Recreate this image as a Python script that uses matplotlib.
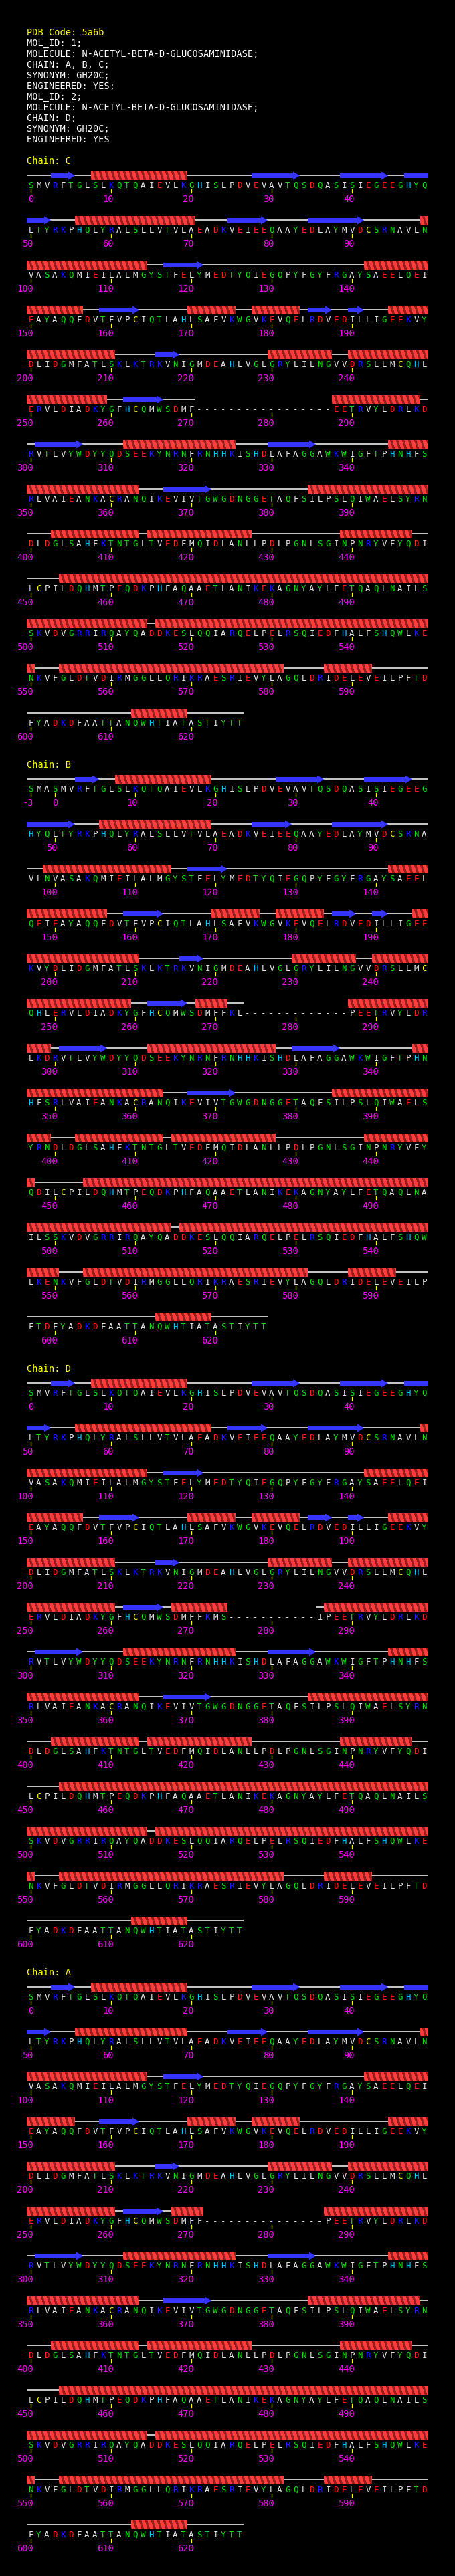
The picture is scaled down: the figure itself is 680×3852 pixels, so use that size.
import matplotlib
matplotlib.use('Agg')
import matplotlib.pyplot as plt
from matplotlib.collections import PolyCollection
from matplotlib.patches import Polygon, Rectangle

# ---- data ----
HEADER_TITLE = 'PDB Code: 5a6b'
HEADER_LINES = ['MOL_ID: 1;',
                'MOLECULE: N-ACETYL-BETA-D-GLUCOSAMINIDASE;',
                'CHAIN: A, B, C;',
                'SYNONYM: GH20C;',
                'ENGINEERED: YES;',
                'MOL_ID: 2;',
                'MOLECULE: N-ACETYL-BETA-D-GLUCOSAMINIDASE;',
                'CHAIN: D;',
                'SYNONYM: GH20C;',
                'ENGINEERED: YES']

# residues -3 .. 626 (X = never observed in any chain)
SEQ_FIRST = -3
SEQUENCE = ('SMA'
            'SMVRFTGLSLKQTQAIEVLKGHISLPDVEVAVTQSDQASISIEGEEGHYQ'
            'LTYRKPHQLYRALSLLVTVLAEADKVEIEEQAAYEDLAYMVDCSRNAVLN'
            'VASAKQMIEILALMGYSTFELYMEDTYQIEGQPYFGYFRGAYSAEELQEI'
            'EAYAQQFDVTFVPCIQTLAHLSAFVKWGVKEVQELRDVEDILLIGEEKVY'
            'DLIDGMFATLSKLKTRKVNIGMDEAHLVGLGRYLILNGVVDRSLLMCQHL'
            'ERVLDIADKYGFHCQMWSDMFFKLSXXXXXXXXXXXIPEETRVYLDRLKD'
            'RVTLVYWDYYQDSEEKYNRNFRNHHKISHDLAFAGGAWKWIGFTPHNHFS'
            'RLVAIEANKACRANQIKEVIVTGWGDNGGETAQFSILPSLQIWAELSYRN'
            'DLDGLSAHFKTNTGLTVEDFMQIDLANLLPDLPGNLSGINPNRYVFYQDI'
            'LCPILDQHMTPEQDKPHFAQAAETLANIKEKAGNYAYLFETQAQLNAILS'
            'SKVDVGRRIRQAYQADDKESLQQIARQELPELRSQIEDFHALFSHQWLKE'
            'NKVFGLDTVDIRMGGLLQRIKRAESRIEVYLAGQLDRIDELEVEILPFTD'
            'FYADKDFAATTANQWHTIATASTIYTT')

CHAINS = ['C', 'B', 'D', 'A']
CHAIN_FIRST = [0, -3, 0, 0]
CHAIN_LAST = [626, 626, 626, 626]
CHAIN_MISSING = [(271, 287), (274, 286), (275, 285), (272, 286)]
CHAIN_MUTATIONS = [{}, {}, {273: 'M'}, {}]

HELICES_C = [(8, 19), (56, 70), (99, 114), (142, 156), (170, 175), (178, 183),
             (195, 210), (230, 237), (240, 259), (288, 298), (312, 325),
             (345, 363), (385, 399), (403, 413), (415, 427), (439, 447),
             (454, 514), (516, 550), (554, 581), (587, 592), (613, 619)]
HELICES_B = [(8, 19), (56, 69), (99, 114), (142, 156), (170, 175), (178, 183),
             (195, 210), (230, 237), (240, 259), (268, 271), (287, 299),
             (312, 327), (345, 363), (385, 399), (403, 413), (415, 427),
             (439, 447), (454, 514), (516, 550), (554, 581), (587, 592),
             (613, 619)]
HELICES_D = [(8, 19), (56, 72), (99, 114), (142, 156), (170, 175), (178, 183),
             (195, 210), (230, 237), (240, 260), (268, 274), (287, 299),
             (312, 325), (345, 363), (385, 399), (403, 413), (415, 427),
             (439, 447), (454, 514), (516, 550), (554, 581), (587, 592),
             (613, 619)]
HELICES_A = [(8, 19), (56, 69), (99, 114), (142, 155), (170, 175), (178, 183),
             (195, 210), (230, 237), (240, 260), (268, 271), (287, 299),
             (312, 325), (345, 363), (385, 398), (403, 413), (415, 427),
             (439, 447), (454, 514), (516, 550), (554, 581), (587, 592),
             (613, 619)]

STRANDS_C = [(3, 5), (28, 33), (39, 44), (47, 52), (75, 79), (85, 91),
             (117, 121), (159, 163), (185, 187), (190, 191), (216, 218),
             (262, 266), (301, 306), (330, 335), (367, 372)]
STRANDS_B = list(STRANDS_C)
STRANDS_D = list(STRANDS_C)
STRANDS_A = [(3, 5), (28, 33), (39, 44), (47, 52), (75, 79), (85, 91),
             (117, 121), (159, 163), (216, 218), (262, 266), (301, 306),
             (330, 335), (367, 372)]

HELICES = [HELICES_C, HELICES_B, HELICES_D, HELICES_A]
STRANDS = [STRANDS_C, STRANDS_B, STRANDS_D, STRANDS_A]

# ---- style ----
RES_GROUPS = {'AVLIMFP': '#e6e6e6', 'STNQGYW': '#10e010', 'KR': '#1c1cff',
              'DE': '#ff2020', 'H': '#00c8ff', 'C': '#ffff00'}
RES_COLOR = {aa: col for group, col in RES_GROUPS.items() for aa in group}

FONT = 'DejaVu Sans Mono'
X0, DX, PER_ROW = 46, 12, 50
ROW_STEP = 67


def xpos(j):
    return X0 + DX * j


def draw_helix(ax, x_lo, x_hi, base):
    top, bot = base - 25, base - 12
    bright, dark = [], []
    s = x_lo - 12
    while s < x_hi:
        bright.append([(s, top), (s + 6, top), (s + 10, bot), (s + 4, bot)])
        dark.append([(s + 6, top), (s + 9, top), (s + 13, bot), (s + 10, bot)])
        s += 9
    clip = Rectangle((x_lo, top), x_hi - x_lo, bot - top, transform=ax.transData)
    for polys, col in ((bright, '#ff3c3c'), (dark, '#9a1c1c')):
        pc = PolyCollection(polys, facecolors=col, edgecolors='none', zorder=3)
        ax.add_collection(pc)
        pc.set_clip_path(clip)


def draw_strand(ax, x_lo, x_hi, base, head):
    b1, b2 = base - 22, base - 15
    if head:
        xh = x_hi - 10
        pts = [(x_lo, b1), (xh, b1), (xh, base - 24.5), (x_hi, base - 18.5),
               (xh, base - 12.5), (xh, b2), (x_lo, b2)]
    else:
        pts = [(x_lo, b1), (x_hi, b1), (x_hi, b2), (x_lo, b2)]
    ax.add_patch(Polygon(pts, closed=True, facecolor='#3535ff', edgecolor='none', zorder=3))


fig = plt.figure(figsize=(6.8, 38.52), dpi=100, facecolor='black')
ax = fig.add_axes([0, 0, 1, 1])
ax.set_facecolor('black')
ax.set_xlim(0, 680)
ax.set_ylim(3852, 0)
ax.axis('off')

# header
ax.text(40, 53, HEADER_TITLE, color='#ffff00', fontsize=9.8, family=FONT, va='baseline')
for k, line in enumerate(HEADER_LINES):
    ax.text(40, 69 + 16 * k, line, color='white', fontsize=9.8, family=FONT, va='baseline')

label_base = 245
for ci, name in enumerate(CHAINS):
    ax.text(40, label_base, f'Chain: {name}', color='#ffff00', fontsize=9.8,
            family=FONT, va='baseline')
    first, last = CHAIN_FIRST[ci], CHAIN_LAST[ci]
    gap_lo, gap_hi = CHAIN_MISSING[ci]
    muts = CHAIN_MUTATIONS[ci]
    n_rows = (last - first) // PER_ROW + 1
    for r in range(n_rows):
        base = label_base + 36 + ROW_STEP * r
        r0 = first + PER_ROW * r
        r1 = min(r0 + PER_ROW - 1, last)
        observed = [not (gap_lo <= n <= gap_hi) for n in range(r0, r1 + 1)]

        # coil line over observed runs
        j = 0
        while j < len(observed):
            if observed[j]:
                k = j
                while k + 1 < len(observed) and observed[k + 1]:
                    k += 1
                ax.plot([xpos(j) - 6, xpos(k) + 6], [base - 18.5] * 2, color='white',
                        lw=1.1, solid_capstyle='butt', zorder=2)
                j = k + 1
            else:
                j += 1

        # secondary structure
        for a, b in HELICES[ci]:
            lo, hi = max(a, r0), min(b, r1)
            if lo <= hi:
                draw_helix(ax, xpos(lo - r0) - 6, xpos(hi - r0) + 6, base)
        for a, b in STRANDS[ci]:
            lo, hi = max(a, r0), min(b, r1)
            if lo <= hi:
                draw_strand(ax, xpos(lo - r0) - 6, xpos(hi - r0) + 6, base, head=(hi == b))

        # residues, ticks and numbers
        for n in range(r0, r1 + 1):
            x = xpos(n - r0)
            if observed[n - r0]:
                aa = muts.get(n, SEQUENCE[n - SEQ_FIRST])
                col = RES_COLOR.get(aa, 'white')
            else:
                aa, col = '-', '#e6e6e6'
            ax.text(x, base, aa, color=col, fontsize=8.9, family=FONT,
                    ha='center', va='baseline', zorder=4)
            if n % 10 == 0 or n == first:
                ax.plot([x, x], [base + 2, base + 7], color='#ffff00', lw=0.9, zorder=4)
                ax.text(x + 4, base + 21, str(n), color='#ff00ff', fontsize=9.8,
                        family=FONT, ha='right', va='baseline', zorder=4)
    label_base = label_base + 36 + ROW_STEP * (n_rows - 1) + 63

fig.savefig('out.png', dpi=100, facecolor='black')
